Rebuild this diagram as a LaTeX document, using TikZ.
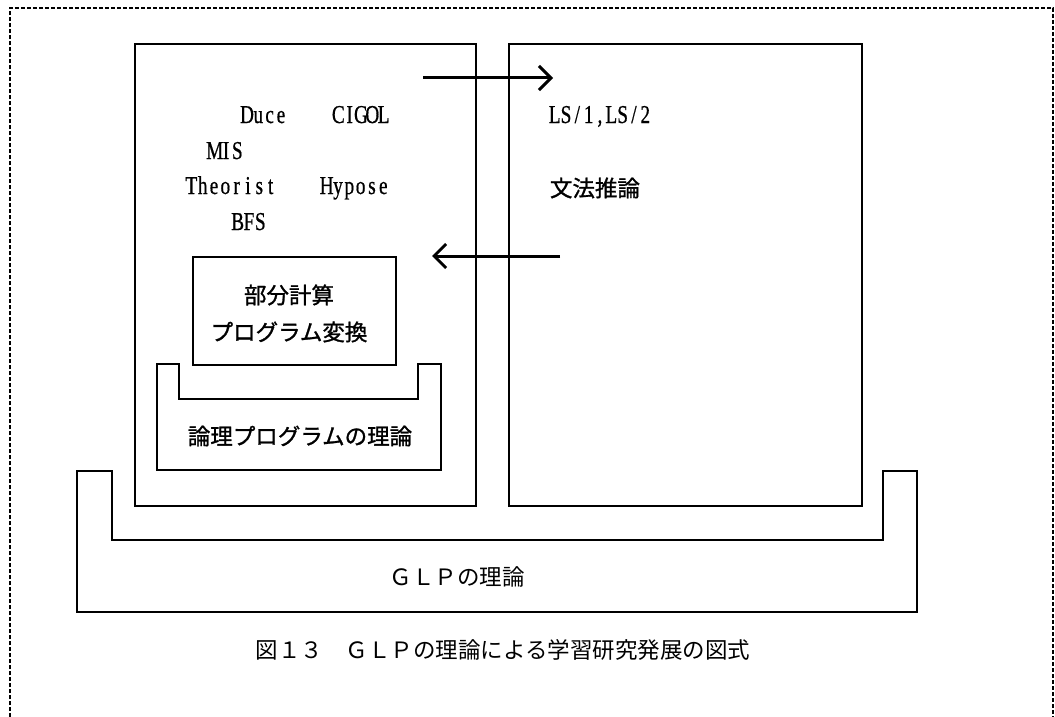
\documentclass[tikz,border=0pt]{standalone}
\usepackage{fontspec}
\usepackage{graphicx}
\usetikzlibrary{arrows.meta}
\setmainfont{Liberation Serif}
\newfontfamily\jpfont{Noto Sans CJK JP}
\newfontfamily\jpbold{Noto Sans CJK JP}[FakeBold=1.2]
\newfontfamily\latfont{Liberation Serif}[FakeBold=0.8]
\def\monochars#1{\ifx\relax#1\else\makebox[15.1pt][c]{#1}\expandafter\monochars\fi}
\newcommand{\lat}[1]{\scalebox{0.75}[1]{\latfont\fontsize{25.7pt}{27pt}\selectfont\monochars#1\relax}}
\tikzset{
  frame/.style={draw, line width=1.8pt, inner sep=0pt, anchor=north west},
  ushape/.style={draw, line width=1.8pt},
  jptext/.style={inner sep=0pt, font=\jpfont\fontsize{22.5pt}{26pt}\selectfont},
  jpbtext/.style={inner sep=0pt, font=\jpbold\fontsize{22.5pt}{26pt}\selectfont},
  lattext/.style={inner sep=0pt, anchor=base},
  arr/.style={line width=3pt, -{Straight Barb[length=12pt,width=24pt,line width=3pt]}},
  border/.style={line width=1.2pt, dash pattern=on 4pt off 2pt}
}
\begin{document}
\begin{tikzpicture}[x=1pt, y=-1pt]
\useasboundingbox (0,0) rectangle (1055,717);
% dashed border
\draw[border] (10,717) -- (10,8) -- (1053,8) -- (1053,717);
% main boxes
\node[frame, minimum width=341pt, minimum height=462pt] (leftbox) at (134,43) {};
\node[frame, minimum width=353pt, minimum height=462pt] (rightbox) at (508,43) {};
\node[frame, minimum width=203pt, minimum height=108pt] (pebox) at (192,256) {};
% logic program U-shape
\draw[ushape] (157,364) -- (179,364) -- (179,399) -- (418,399) -- (418,364) -- (441,364) -- (441,470) -- (157,470) -- cycle;
% GLP U-shape
\draw[ushape] (77,471) -- (112,471) -- (112,540) -- (883,540) -- (883,471) -- (917,471) -- (917,612) -- (77,612) -- cycle;
% arrows
\coordinate (a1s) at (423,78);
\coordinate (a1e) at (553,78);
\coordinate (a2s) at (560,256);
\coordinate (a2e) at (432,256);
\draw[arr] (a1s) -- (a1e);
\draw[arr] (a2s) -- (a2e);
% latin labels
\node[lattext] (duce) at (264,123) {\lat{Duce}};
\node[lattext] (cigol) at (361,123) {\lat{CIGOL}};
\node[lattext] (mis) at (226,159) {\lat{MIS}};
\node[lattext] (theorist) at (231,194) {\lat{Theorist}};
\node[lattext] (hypose) at (355,194) {\lat{Hypose}};
\node[lattext] (bfs) at (249,230) {\lat{BFS}};
\node[lattext] (ls) at (600,123) {\lat{LS/1,LS/2}};
% japanese labels
\node[jpbtext] (bunpo) at (595,188) {文法推論};
\node[jpbtext] (pe1) at (289,295) {部分計算};
\node[jpbtext] (pe2) at (289,332) {プログラム変換};
\node[jpbtext] (lp) at (300,436) {論理プログラムの理論};
\node[jptext] (glp) at (457,577) {ＧＬＰの理論};
\node[jptext] (caption) at (503,650) {図１３　ＧＬＰの理論による学習研究発展の図式};
\end{tikzpicture}
\end{document}
